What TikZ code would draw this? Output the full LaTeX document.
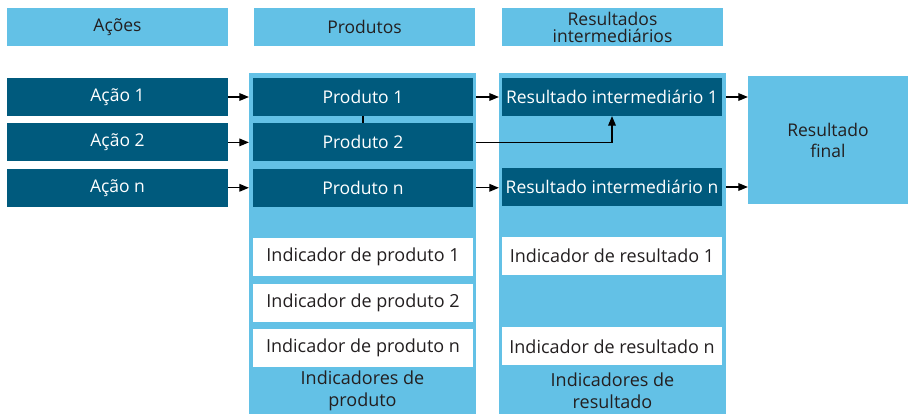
\documentclass[tikz,border=0pt]{standalone}
\usepackage{fontspec}
\setmainfont{Open Sans}
\usepackage{tikz}
\usetikzlibrary{arrows,positioning}
\definecolor{azulclaro}{RGB}{99,193,230}
\definecolor{azulescuro}{RGB}{0,90,125}
\definecolor{texto}{RGB}{35,31,32}

\begin{document}
\begin{tikzpicture}[x=1pt,y=-1pt,>=triangle 45,node distance=7pt,font=\fontsize{17.5}{21}\selectfont]
  \tikzstyle{titulo}=[fill=azulclaro,text=texto,minimum width=221pt,minimum height=38pt,inner sep=0pt,align=center,font=\fontsize{17.5}{17}\selectfont]
  \tikzstyle{painel}=[fill=azulclaro,minimum width=227pt,minimum height=341pt,inner sep=0pt]
  \tikzstyle{caixa}=[fill=azulescuro,text=white,minimum width=221pt,minimum height=38pt,inner sep=0pt]
  \tikzstyle{indicador}=[fill=white,text=texto,minimum width=220pt,minimum height=38pt,inner sep=0pt,font=\fontsize{18}{21}\selectfont]
  \tikzstyle{rotulo}=[text=texto,align=center,font=\fontsize{18}{22}\selectfont]
  \tikzstyle{seta}=[->,line width=1.2pt]

  \useasboundingbox (0,0) rectangle (909,414);

  % colunas de fundo
  \node[painel] (painelP) at (362.5,243.5) {};
  \node[painel] (painelR) at (612.5,243.5) {};

  % titulos
  \node[titulo] (tAcoes)     at (117.5,27) {Ações};
  \node[titulo] (tProdutos)  at (364.5,27) {Produtos};
  \node[titulo] (tResultados) at (612.5,27) {Resultados\\intermediários};

  % acoes
  \node[caixa] (a1) at (117.5,97) {Ação 1};
  \node[caixa] (a2) [below=of a1] {Ação 2};
  \node[caixa] (an) [below=of a2] {Ação n};

  % produtos
  \node[caixa,minimum width=220pt] (p1) at (363,97) {Produto 1};
  \node[caixa,minimum width=220pt] (p2) [below=of p1] {Produto 2};
  \node[caixa,minimum width=220pt] (pn) [below=of p2] {Produto n};

  \node[indicador] (ip1) [below=31pt of pn] {Indicador de produto 1};
  \node[indicador] (ip2) [below=of ip1]     {Indicador de produto 2};
  \node[indicador] (ipn) [below=of ip2]     {Indicador de produto n};
  \node[rotulo] (lp) at (362.5,391) {Indicadores de\\produto};

  % resultados
  \node[caixa,minimum width=220pt] (ri1) at (612,97) {Resultado intermediário 1};
  \node[caixa,minimum width=220pt] (rin) at (612,187) {Resultado intermediário n};

  \node[indicador] (ir1) at (612,256) {Indicador de resultado 1};
  \node[indicador] (irn) [below=52pt of ir1] {Indicador de resultado n};
  \node[rotulo] (lr) at (612.5,391) {Indicadores de\\resultado};

  \node[fill=azulclaro,text=texto,minimum width=160pt,minimum height=128pt,align=center,inner sep=0pt] (final) at (828,140) {Resultado\\final};

  % ligacoes
  \draw[seta] (a1) -- (a1 -| painelP.west);
  \draw[seta] (a2) -- (a2 -| painelP.west);
  \draw[seta] (an) -- (an -| painelP.west);
  \draw[line width=1.2pt] (p1.south) -- (p2.north);
  \draw[seta] (p1 -| painelP.east) -- (p1 -| painelR.west);
  \draw[seta] (pn -| painelP.east) -- (pn -| painelR.west);
  \draw[seta] (p2 -| painelP.east) -| (ri1.south);
  \draw[seta] (ri1 -| painelR.east) -- (ri1 -| final.west);
  \draw[seta] (rin -| painelR.east) -- (rin -| final.west);
\end{tikzpicture}
\end{document}
